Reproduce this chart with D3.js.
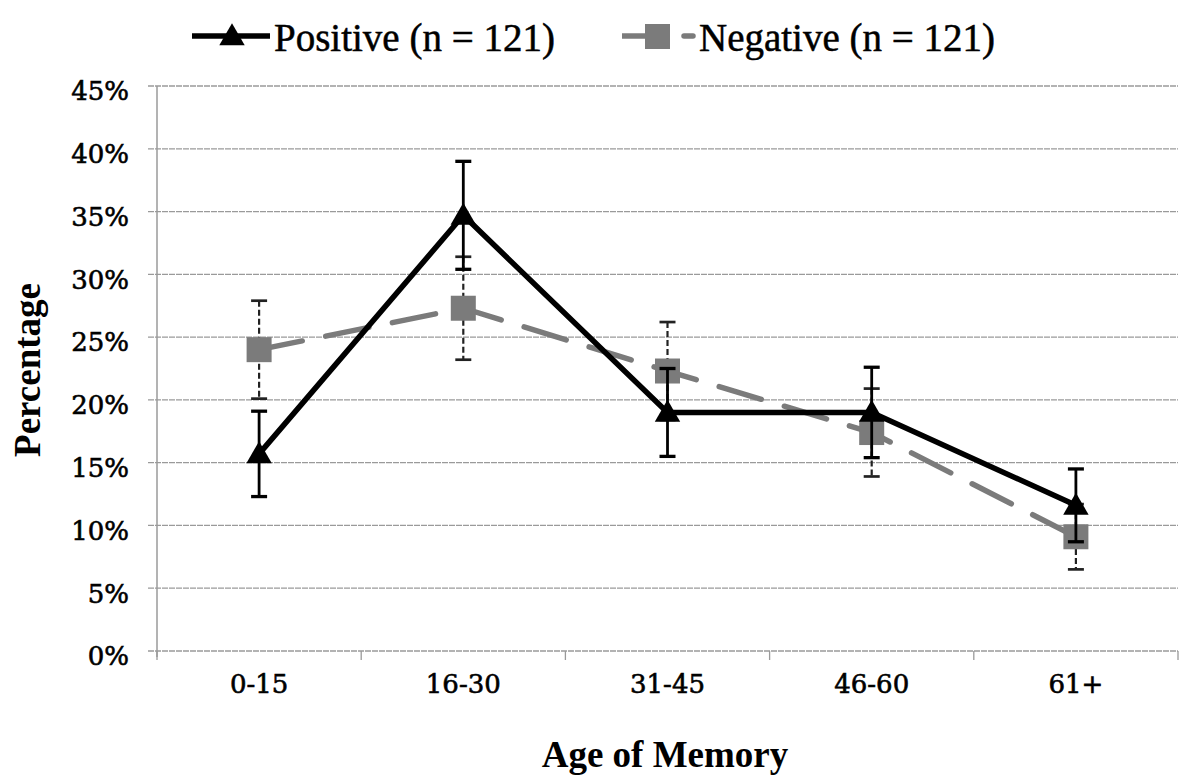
<!DOCTYPE html>
<html>
<head>
<meta charset="utf-8">
<script src="https://cdn.jsdelivr.net/npm/d3@7"></script>
<style>
  body { margin: 0; background: #fff; }
  svg { display: block; }
</style>
</head>
<body>
<svg id="chart" width="1191" height="782"></svg>
<script>
// data (percent)
const categories = ['0-15', '16-30', '31-45', '46-60', '61+'];
const positive = [15.7, 34.7, 19.0, 19.0, 11.6];
const positiveErr = [3.4, 4.3, 3.5, 3.6, 2.9];
const negative = [24.0, 27.3, 22.3, 17.4, 9.1];
const negativeErr = [3.9, 4.1, 3.9, 3.5, 2.6];
const yTicks = [0, 5, 10, 15, 20, 25, 30, 35, 40, 45];
const legendLabels = ['Positive (n = 121)', 'Negative (n = 121)'];

const svg = d3.select('#chart');

const plotLeft = 157, plotRight = 1178, plotTop = 86, plotBottom = 651;
const negColor = '#7b7b7b';

const x = d3.scaleBand().domain(categories).range([plotLeft, plotRight]).padding(0);
const y = d3.scaleLinear().domain([0, 45]).range([plotBottom, plotTop]);
const cx = d => x(d) + x.bandwidth() / 2;

// gridlines
svg.append('g')
  .selectAll('line').data(yTicks)
  .join('line')
  .attr('x1', plotLeft - 9).attr('x2', plotRight)
  .attr('y1', d => y(d)).attr('y2', d => y(d))
  .attr('stroke', '#9a9a9a').attr('stroke-width', 1.3)
  .attr('stroke-dasharray', '6,1');

// y axis line
svg.append('line')
  .attr('x1', plotLeft).attr('x2', plotLeft).attr('y1', plotTop).attr('y2', plotBottom + 6)
  .attr('stroke', '#9a9a9a').attr('stroke-width', 1.5);

// x axis ticks at band edges
const xEdges = categories.map(c => x(c)).concat([plotRight]);
svg.append('g')
  .selectAll('line').data(xEdges)
  .join('line')
  .attr('x1', d => d).attr('x2', d => d)
  .attr('y1', plotBottom).attr('y2', plotBottom + 9)
  .attr('stroke', '#9a9a9a').attr('stroke-width', 1.3);

// y tick labels
svg.append('g')
  .selectAll('text').data(yTicks)
  .join('text')
  .attr('x', 129).attr('y', d => y(d) + 5)
  .attr('dy', '0.36em')
  .attr('text-anchor', 'end')
  .style('font-family', '"DejaVu Serif", serif')
  .style('font-size', '26px')
  .style('fill', '#000').style('stroke', '#000').style('stroke-width', 0.6)
  .text(d => d + '%');

// x tick labels
svg.append('g')
  .selectAll('text').data(categories)
  .join('text')
  .attr('x', d => cx(d)).attr('y', 693)
  .attr('text-anchor', 'middle')
  .style('font-family', '"DejaVu Serif", serif')
  .style('font-size', '26px')
  .style('fill', '#000').style('stroke', '#000').style('stroke-width', 0.6)
  .text(d => d);

// axis titles
svg.append('text')
  .attr('x', 665).attr('y', 767)
  .attr('text-anchor', 'middle')
  .style('font-family', '"Liberation Serif", serif')
  .style('font-weight', 'bold')
  .style('font-size', '37px')
  .style('fill', '#000')
  .text('Age of Memory');

svg.append('text')
  .attr('transform', 'translate(40,370) rotate(-90)')
  .attr('text-anchor', 'middle')
  .style('font-family', '"Liberation Serif", serif')
  .style('font-weight', 'bold')
  .style('font-size', '37px')
  .style('fill', '#000')
  .text('Percentage');

const line = d3.line().x((d, i) => cx(categories[i])).y(d => y(d));

function errorBars(g, vals, errs, color, width, dash) {
  const eb = g.append('g').selectAll('g').data(vals).join('g');
  eb.append('line')
    .attr('x1', (d, i) => cx(categories[i])).attr('x2', (d, i) => cx(categories[i]))
    .attr('y1', (d, i) => y(d + errs[i])).attr('y2', (d, i) => y(d - errs[i]))
    .attr('stroke', color).attr('stroke-width', width)
    .attr('stroke-dasharray', dash);
  [1, -1].forEach(s => {
    eb.append('line')
      .attr('x1', (d, i) => cx(categories[i]) - 8).attr('x2', (d, i) => cx(categories[i]) + 8)
      .attr('y1', (d, i) => y(d + s * errs[i])).attr('y2', (d, i) => y(d + s * errs[i]))
      .attr('stroke', color).attr('stroke-width', width + 0.5);
  });
}

// negative series
const gNeg = svg.append('g');
gNeg.append('path').datum(negative)
  .attr('d', line)
  .attr('fill', 'none').attr('stroke', negColor).attr('stroke-width', 5.5)
  .attr('stroke-dasharray', '44,24').attr('stroke-linecap', 'round');
errorBars(gNeg, negative, negativeErr, '#222', 2.2, '6,3');
gNeg.append('g').selectAll('rect').data(negative)
  .join('rect')
  .attr('x', (d, i) => cx(categories[i]) - 12.5).attr('y', d => y(d) - 12.5)
  .attr('width', 25).attr('height', 25)
  .attr('fill', negColor);

// positive series
const gPos = svg.append('g');
gPos.append('path').datum(positive)
  .attr('d', line)
  .attr('fill', 'none').attr('stroke', '#000').attr('stroke-width', 5.5)
  .attr('stroke-linejoin', 'round');
errorBars(gPos, positive, positiveErr, '#000', 2.8, null);
const tri = d3.symbol().type(d3.symbolTriangle).size(280);
gPos.append('g').selectAll('path').data(positive)
  .join('path')
  .attr('d', tri)
  .attr('transform', (d, i) => `translate(${cx(categories[i])},${y(d) + 2})`)
  .attr('fill', '#000');

// legend
const lg = svg.append('g');
lg.append('line').attr('x1', 192).attr('x2', 270).attr('y1', 36).attr('y2', 36)
  .attr('stroke', '#000').attr('stroke-width', 5.5);
lg.append('path').attr('d', tri).attr('transform', 'translate(232,38)').attr('fill', '#000');
lg.append('line').attr('x1', 622).attr('x2', 648).attr('y1', 36).attr('y2', 36)
  .attr('stroke', negColor).attr('stroke-width', 5.5);
lg.append('rect').attr('x', 645).attr('y', 24).attr('width', 25).attr('height', 25).attr('fill', negColor);
lg.append('line').attr('x1', 684).attr('x2', 693).attr('y1', 36).attr('y2', 36)
  .attr('stroke', negColor).attr('stroke-width', 5.5).attr('stroke-linecap', 'round');
lg.selectAll('text').data(legendLabels)
  .join('text')
  .attr('x', (d, i) => i === 0 ? 274 : 699).attr('y', 51)
  .style('font-family', '"Liberation Serif", serif')
  .style('font-size', '39px')
  .style('fill', '#000').style('stroke', '#000').style('stroke-width', 0.5)
  .text(d => d);
</script>
</body>
</html>
